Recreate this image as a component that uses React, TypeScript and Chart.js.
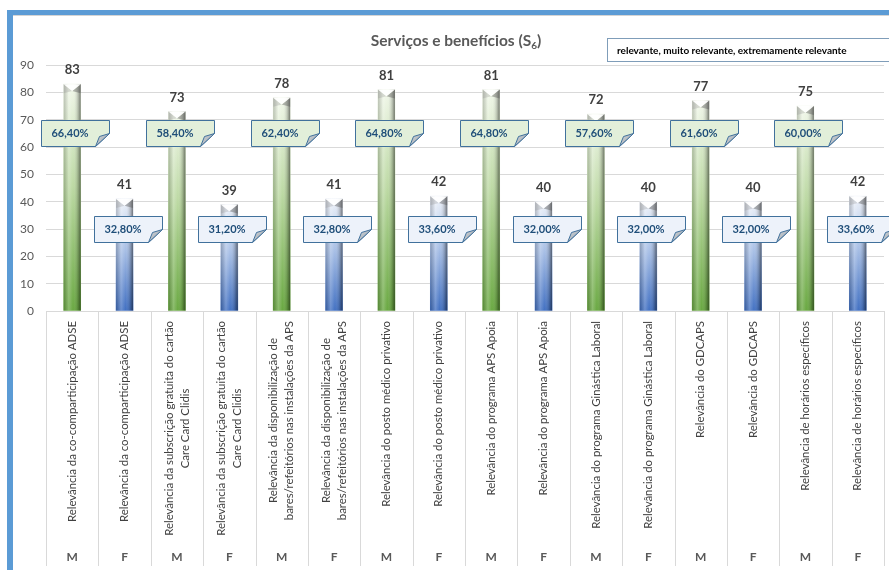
import React, { useEffect, useRef } from "react";
import { Chart, registerables } from "chart.js";

Chart.register(...registerables);

// ---------- data ----------
const services: string[][] = [
  ["Relevância da co-comparticipação ADSE"],
  ["Relevância da subscrição gratuita do cartão", "Care Card Clidis"],
  ["Relevância da disponibilização de", "bares/refeitórios nas instalações da APS"],
  ["Relevância do posto médico privativo"],
  ["Relevância do programa APS Apoia"],
  ["Relevância do programa Ginástica Laboral"],
  ["Relevância do GDCAPS"],
  ["Relevância de horários específicos"],
];
const sexes = ["M", "F"];
const maleValues = [83, 73, 78, 81, 81, 72, 77, 75];
const femaleValues = [41, 39, 41, 42, 40, 40, 40, 42];
const malePercent = [66.4, 58.4, 62.4, 64.8, 64.8, 57.6, 61.6, 60.0];
const femalePercent = [32.8, 31.2, 32.8, 33.6, 32.0, 32.0, 32.0, 33.6];
const yMax = 90;
const yStep = 10;
const chartTitle = "Serviços e benefícios (S";
const chartTitleSub = "6";
const legendText = "relevante, muito relevante, extremamente relevante";

// build interleaved series (M, F per service)
const labelLines: string[][] = [];
const sexLabels: string[] = [];
const values: number[] = [];
const percents: number[] = [];
services.forEach((s, i) => {
  labelLines.push(s, s);
  sexLabels.push(sexes[0], sexes[1]);
  values.push(maleValues[i], femaleValues[i]);
  percents.push(malePercent[i], femalePercent[i]);
});
const categoryKeys = labelLines.map((l, i) => l.join(" ") + " " + sexLabels[i]);

const FONT = 'Lato, "Liberation Sans", Arial, sans-serif';

const fmtPct = (p: number) => p.toFixed(2).replace(".", ",") + "%";

const decorPlugin = {
  id: "decor",
  afterDatasetsDraw(chart: any) {
    const ctx: CanvasRenderingContext2D = chart.ctx;
    const meta = chart.getDatasetMeta(0);
    const yScale = chart.scales.y;
    const xScale = chart.scales.x;
    const area = chart.chartArea;
    ctx.save();

    // separators of the category axis
    const n = labelLines.length;
    ctx.strokeStyle = "#d9d9d9";
    ctx.lineWidth = 1;
    for (let k = 0; k <= n; k++) {
      const xx = Math.round(xScale.left + (k * xScale.width) / n) + 0.5;
      ctx.beginPath();
      ctx.moveTo(xx, area.bottom);
      ctx.lineTo(xx, chart.height - 4);
      ctx.stroke();
    }

    // category labels (rotated, centre-aligned lines) and sex labels
    for (let i = 0; i < n; i++) {
      const cx = xScale.getPixelForValue(i);
      const lines = labelLines[i];
      ctx.save();
      ctx.font = `11.4px ${FONT}`;
      ctx.fillStyle = "#404040";
      ctx.textAlign = "center";
      ctx.textBaseline = "middle";
      const lh = 16;
      const maxW = Math.max(...lines.map((l) => ctx.measureText(l).width));
      const midY = area.bottom + 10 + maxW / 2;
      lines.forEach((line, j) => {
        const off = (j - (lines.length - 1) / 2) * lh;
        ctx.save();
        ctx.translate(cx + off, midY);
        ctx.rotate(-Math.PI / 2);
        ctx.fillText(line, 0, 0);
        ctx.restore();
      });
      ctx.restore();
      ctx.font = `bold 12px ${FONT}`;
      ctx.fillStyle = "#595959";
      ctx.textAlign = "center";
      ctx.textBaseline = "middle";
      ctx.fillText(sexLabels[i], cx, chart.height - 13);
    }

    // bar shading, caps, value labels, callouts
    meta.data.forEach((bar: any, i: number) => {
      const { x, y, base, width } = bar.getProps(["x", "y", "base", "width"], true);
      const isM = i % 2 === 0;
      const left = x - width / 2;
      const right = x + width / 2;

      const hg = ctx.createLinearGradient(left, 0, right, 0);
      hg.addColorStop(0, "rgba(0,0,0,0.2)");
      hg.addColorStop(0.3, "rgba(255,255,255,0.22)");
      hg.addColorStop(0.55, "rgba(255,255,255,0)");
      hg.addColorStop(0.85, "rgba(0,0,0,0.22)");
      hg.addColorStop(1, "rgba(0,0,0,0.5)");
      ctx.fillStyle = hg;
      ctx.fillRect(left, y, width, base - y);

      const h = 9;
      ctx.fillStyle = "rgba(140,140,140,0.28)";
      ctx.beginPath();
      ctx.moveTo(left, y);
      ctx.lineTo(x, y + h * 0.75);
      ctx.lineTo(left, y + h);
      ctx.closePath();
      ctx.fill();
      ctx.fillStyle = "rgba(80,80,80,0.4)";
      ctx.beginPath();
      ctx.moveTo(right, y);
      ctx.lineTo(x, y + h * 0.75);
      ctx.lineTo(right, y + h);
      ctx.closePath();
      ctx.fill();
      ctx.fillStyle = "rgba(255,255,255,0.92)";
      ctx.beginPath();
      ctx.moveTo(left, y);
      ctx.lineTo(right, y);
      ctx.lineTo(x, y + h * 0.75);
      ctx.closePath();
      ctx.fill();

      // value label
      ctx.font = `bold 13px ${FONT}`;
      ctx.fillStyle = "#404040";
      ctx.textAlign = "center";
      ctx.textBaseline = "middle";
      ctx.fillText(String(values[i]), x, y - 14);

      // callout
      const W = 68, H = 26, fold = 13;
      const cx = x + 3;
      const cy = yScale.getPixelForValue(isM ? 65 : 30);
      const L = Math.round(cx - W / 2) + 0.5;
      const T = Math.round(cy - H / 2) + 0.5;
      const R = L + W, B = T + H;
      ctx.beginPath();
      ctx.moveTo(L, T);
      ctx.lineTo(R, T);
      ctx.lineTo(R, B - fold);
      ctx.lineTo(R - fold - 1, B);
      ctx.lineTo(L, B);
      ctx.closePath();
      ctx.fillStyle = isM ? "#e2efda" : "#edf2fa";
      ctx.fill();
      ctx.strokeStyle = "#41719c";
      ctx.lineWidth = 1;
      ctx.stroke();
      const fg = ctx.createLinearGradient(R - fold, B - fold, R, B);
      fg.addColorStop(0, "#d6dbe0");
      fg.addColorStop(1, "#8e969e");
      ctx.beginPath();
      ctx.moveTo(R - fold - 1, B);
      ctx.lineTo(R - fold + 3, B - fold + 3);
      ctx.lineTo(R, B - fold);
      ctx.closePath();
      ctx.fillStyle = fg;
      ctx.fill();
      ctx.strokeStyle = "#41719c";
      ctx.stroke();

      ctx.font = `bold 11px ${FONT}`;
      ctx.fillStyle = "#1f4e79";
      ctx.textAlign = "center";
      ctx.textBaseline = "middle";
      ctx.fillText(fmtPct(percents[i]), L + (W - fold) / 2 + 1, cy + 0.5);
    });
    ctx.restore();
  },
};

export default function App() {
  const ref = useRef<HTMLCanvasElement | null>(null);

  useEffect(() => {
    if (!ref.current) return;
    const chart = new Chart(ref.current, {
      type: "bar",
      data: {
        labels: categoryKeys,
        datasets: [
          {
            data: values,
            barThickness: 17,
            backgroundColor: (c: any) => {
              const isM = c.dataIndex % 2 === 0;
              const chartObj = c.chart;
              const area = chartObj.chartArea;
              if (!area || c.type !== "data") return isM ? "#70ad47" : "#4472c4";
              const yS = chartObj.scales.y;
              const top = yS.getPixelForValue(c.raw);
              const bottom = yS.getPixelForValue(0);
              const g = chartObj.ctx.createLinearGradient(0, top, 0, bottom);
              if (isM) {
                g.addColorStop(0, "#f1f7ea");
                g.addColorStop(0.45, "#bcd9a3");
                g.addColorStop(1, "#69a841");
              } else {
                g.addColorStop(0, "#eef2f9");
                g.addColorStop(0.45, "#a9c0e6");
                g.addColorStop(1, "#4170c2");
              }
              return g;
            },
            borderWidth: 0,
          },
        ],
      },
      options: {
        responsive: false,
        animation: false,
        devicePixelRatio: 1,
        layout: { padding: { top: 50, right: 5, left: 0, bottom: 0 } },
        plugins: {
          legend: { display: false },
          title: { display: false },
          tooltip: { enabled: false },
        },
        scales: {
          x: {
            type: "category",
            grid: { display: false },
            border: { display: false },
            ticks: { display: false },
            afterFit: (s: any) => {
              s.height = 259;
            },
          },
          y: {
            min: 0,
            max: yMax,
            ticks: {
              stepSize: yStep,
              color: "#595959",
              font: { family: FONT, size: 12 },
              padding: 12,
            },
            grid: { color: "#d9d9d9", drawTicks: false },
            border: { display: false },
            afterFit: (s: any) => {
              s.width = 33;
            },
          },
        },
      },
      plugins: [decorPlugin],
    });
    return () => chart.destroy();
  }, []);

  return (
    <div
      style={{
        position: "fixed",
        left: 0,
        top: 0,
        width: 889,
        height: 570,
        background: "#ffffff",
        overflow: "hidden",
        fontFamily: FONT,
      }}
    >
      <div
        style={{
          position: "absolute",
          left: 7,
          top: 10,
          width: 900,
          height: 600,
          borderLeft: "6px solid #5b9bd5",
          borderTop: "5px solid #5b9bd5",
        }}
      />
      <div
        style={{
          position: "absolute",
          left: 13,
          top: 15,
          width: 900,
          height: 1,
          background: "#d4d4d4",
        }}
      />
      <canvas
        ref={ref}
        width={876}
        height={555}
        style={{ position: "absolute", left: 13, top: 15, width: 876, height: 555 }}
      />
      <div
        style={{
          position: "absolute",
          left: 256,
          width: 400,
          top: 30,
          textAlign: "center",
          fontWeight: "bold",
          fontSize: 15.5,
          color: "#595959",
          lineHeight: "20px",
        }}
      >
        {chartTitle}
        <sub style={{ fontSize: 10, verticalAlign: "-3px" }}>{chartTitleSub}</sub>)
      </div>
      <div
        style={{
          position: "absolute",
          left: 607,
          top: 38,
          width: 300,
          height: 24,
          border: "1px solid #7f9db9",
          boxSizing: "border-box",
          fontWeight: "bold",
          fontSize: 10,
          color: "#000000",
          lineHeight: "22px",
          paddingLeft: 9,
          whiteSpace: "nowrap",
        }}
      >
        {legendText}
      </div>
    </div>
  );
}
